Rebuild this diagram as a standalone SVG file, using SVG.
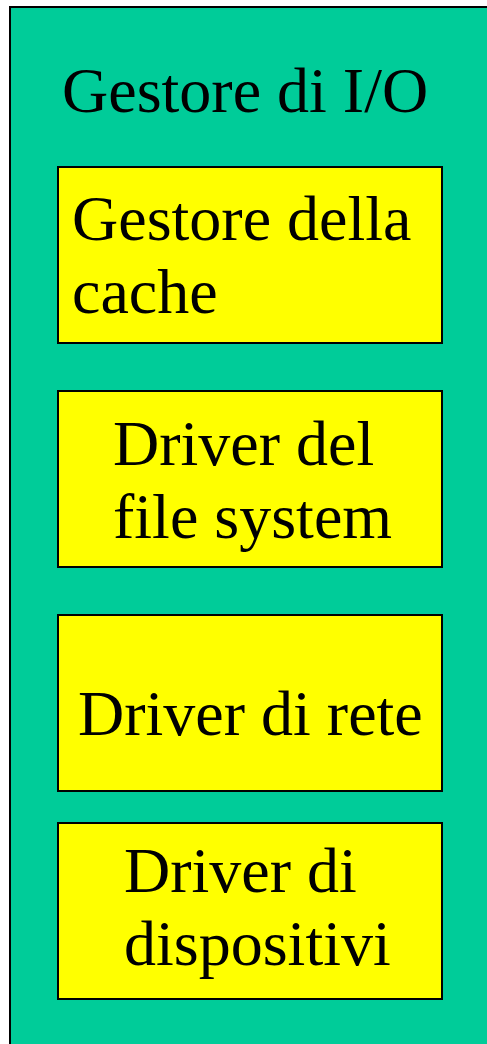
<svg xmlns="http://www.w3.org/2000/svg" width="487" height="1044" viewBox="0 0 487 1044">
<style>
.box{fill:#FFFF00;stroke:#000;stroke-width:2}
.t{font-family:"Liberation Serif","Times New Roman",serif;font-size:64px;fill:#000}
</style>
<rect width="487" height="1044" fill="#fff"/>
<g id="outer">
<rect x="10" y="7" width="490" height="1060" fill="#00CC99" stroke="#000" stroke-width="2"/>
<text class="t" x="62" y="112">Gestore di I/O</text>
</g>
<g id="cache">
<rect class="box" x="58" y="167" width="384" height="176"/>
<text class="t" x="72" y="240">Gestore della</text>
<text class="t" x="72" y="313">cache</text>
</g>
<g id="fs">
<rect class="box" x="58" y="391" width="384" height="176"/>
<text class="t" x="113" y="465">Driver del</text>
<text class="t" x="113" y="538">file system</text>
</g>
<g id="rete">
<rect class="box" x="58" y="615" width="384" height="176"/>
<text class="t" x="78" y="735">Driver di rete</text>
</g>
<g id="disp">
<rect class="box" x="58" y="823" width="384" height="176"/>
<text class="t" x="124" y="892">Driver di</text>
<text class="t" x="124" y="965">dispositivi</text>
</g>
<g id="connectors"/>
</svg>
